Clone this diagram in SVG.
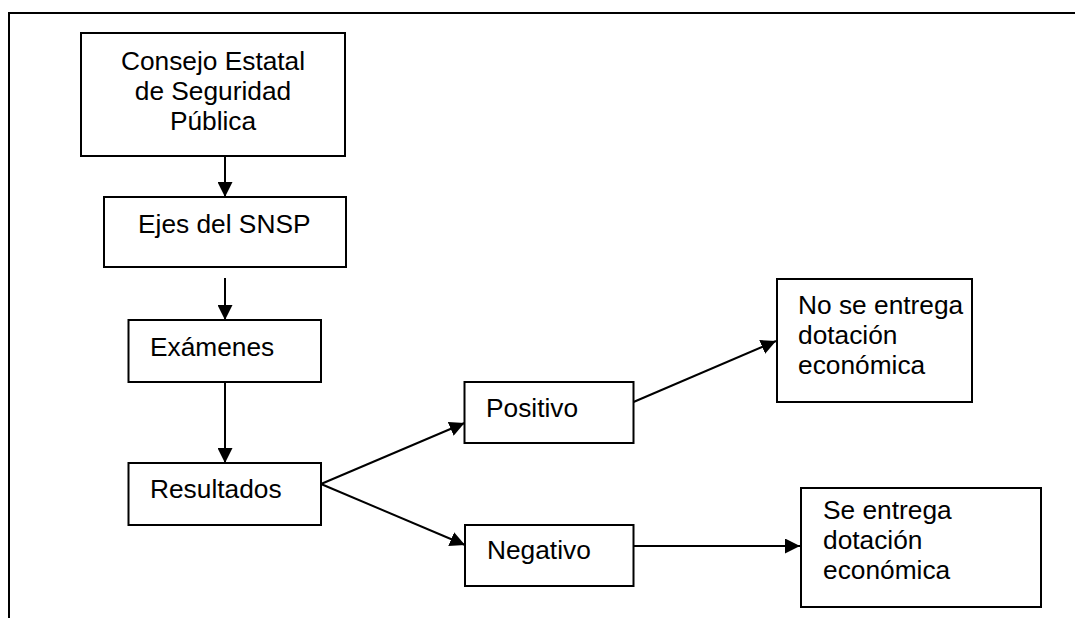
<svg xmlns="http://www.w3.org/2000/svg" width="1075" height="618" viewBox="0 0 1075 618">
<style>
.box{fill:#fff;stroke:#000;stroke-width:2}
.t{font-family:"Liberation Sans",Arial,sans-serif;font-size:26.3px;fill:#000}
.c{stroke:#000;stroke-width:2;fill:none;marker-end:url(#ah)}
.frame{stroke:#000;stroke-width:2;fill:none}
</style>
<defs>
<marker id="ah" viewBox="0 0 15 15" refX="15" refY="7.5" markerWidth="15" markerHeight="15" markerUnits="userSpaceOnUse" orient="auto">
<path d="M0,0 L15,7.5 L0,15 z" fill="#000"/>
</marker>
</defs>
<rect width="1075" height="618" fill="#fff"/>
<g id="frame"><path class="frame" d="M9,618 V13 H1075"/></g>
<g id="n-consejo">
<rect class="box" x="81" y="33" width="264" height="123"/>
<text class="t" x="213" y="69.5" text-anchor="middle">Consejo Estatal</text>
<text class="t" x="213" y="99.5" text-anchor="middle">de Seguridad</text>
<text class="t" x="213" y="129.5" text-anchor="middle">Pública</text>
</g>
<g id="n-ejes">
<rect class="box" x="104" y="197" width="242" height="70"/>
<text class="t" x="138" y="233">Ejes del SNSP</text>
</g>
<g id="n-examenes">
<rect class="box" x="128.5" y="320" width="192.5" height="62"/>
<text class="t" x="150" y="356">Exámenes</text>
</g>
<g id="n-resultados">
<rect class="box" x="128.5" y="463" width="192.5" height="62"/>
<text class="t" x="150" y="498">Resultados</text>
</g>
<g id="n-positivo">
<rect class="box" x="464.5" y="382" width="169" height="61"/>
<text class="t" x="486" y="417">Positivo</text>
</g>
<g id="n-negativo">
<rect class="box" x="465" y="525" width="168.5" height="61"/>
<text class="t" x="487" y="559">Negativo</text>
</g>
<g id="n-no-entrega">
<rect class="box" x="777" y="279" width="195" height="123"/>
<text class="t" x="798" y="314">No se entrega</text>
<text class="t" x="798" y="344">dotación</text>
<text class="t" x="798" y="374">económica</text>
</g>
<g id="n-entrega">
<rect class="box" x="801" y="488" width="240" height="119"/>
<text class="t" x="823" y="519">Se entrega</text>
<text class="t" x="823" y="549">dotación</text>
<text class="t" x="823" y="579">económica</text>
</g>
<g id="connectors">
<line class="c" x1="225" y1="156" x2="225" y2="197"/>
<line class="c" x1="225" y1="278" x2="225" y2="320"/>
<line class="c" x1="225" y1="382" x2="225" y2="463"/>
<line class="c" x1="321" y1="484" x2="464.5" y2="423"/>
<line class="c" x1="321" y1="484" x2="465" y2="545"/>
<line class="c" x1="633.5" y1="402" x2="776" y2="341"/>
<line class="c" x1="633.5" y1="546" x2="800" y2="546"/>
</g>
</svg>
